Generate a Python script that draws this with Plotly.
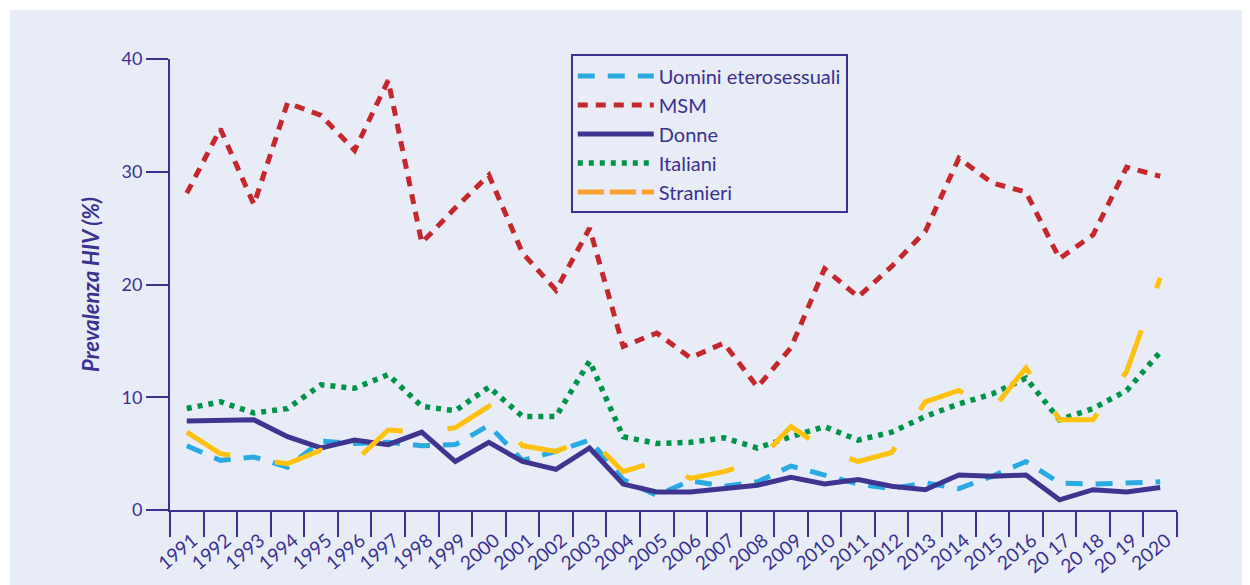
import plotly.graph_objects as go

years = list(range(1991, 2021))
year_labels = [str(y) for y in years]
year_labels = year_labels[:26] + ["20 17", "20 18", "20 19", "2020"]

uomini = [5.7, 4.4, 4.7, 3.8, 6.1, 5.9, 6.0, 5.7, 5.8, 7.5, 4.4, 5.2, 6.2, 2.7, 1.3,
          2.6, 2.1, 2.5, 3.9, 3.1, 2.3, 1.9, 2.4, 1.9, 3.0, 4.3, 2.4, 2.3, 2.4, 2.5]
msm = [28.1, 33.8, 27.1, 36.1, 35.0, 31.9, 38.1, 23.7, 26.8, 29.7, 22.8, 19.5, 25.0, 14.5, 15.7,
       13.5, 14.8, 10.9, 14.4, 21.4, 18.9, 21.6, 24.7, 31.2, 29.0, 28.2, 22.3, 24.4, 30.4, 29.6]
donne = [7.9, 7.9, 8.0, 6.5, 5.5, 6.2, 5.8, 6.9, 4.3, 6.0, 4.3, 3.6, 5.5, 2.3, 1.6,
         1.6, 1.9, 2.2, 2.9, 2.3, 2.7, 2.1, 1.8, 3.1, 3.0, 3.1, 0.9, 1.8, 1.6, 2.0]
italiani = [9.0, 9.6, 8.6, 9.0, 11.1, 10.8, 12.0, 9.2, 8.8, 10.9, 8.3, 8.3, 13.2, 6.5, 5.9,
            6.0, 6.4, 5.5, 6.5, 7.4, 6.2, 6.9, 8.3, 9.4, 10.3, 11.7, 8.0, 9.0, 10.6, 14.0]
stranieri = [6.9, 5.0, 4.5, 4.1, 5.3, 4.3, 7.1, 6.9, 7.3, 9.2, 5.7, 5.2, 6.4, 3.4, 4.3,
             2.8, 3.4, 4.3, 7.4, 5.4, 4.3, 5.1, 9.6, 10.6, 8.9, 12.6, 8.0, 8.0, 12.3, 20.6]

y_ticks = [0, 10, 20, 30, 40]

INK = "#3b3190"
BG = "#e8ecf7"
FONT = "Lato"

fig = go.Figure()

series = [
    ("Uomini eterosessuali", uomini, "#2aaae2", "17px,13px", 5),
    ("MSM", msm, "#c4282e", "10px,8px", 5),
    ("Donne", donne, "#3f3590", "solid", 5),
    ("Italiani", italiani, "#00934a", "5px,6px", 5.5),
]
for name, vals, col, dash, w in series:
    fig.add_trace(go.Scatter(
        x=years, y=vals, mode="lines", name=name,
        line=dict(color=col, dash=dash, width=w), hoverinfo="skip"))

# Stranieri: plotted line (yellow) + legend entry (orange)
fig.add_trace(go.Scatter(
    x=years, y=stranieri, mode="lines", name="Stranieri", showlegend=False,
    line=dict(color="#ffc10f", dash="50px,45px", width=5), hoverinfo="skip"))
fig.add_trace(go.Scatter(
    x=[None], y=[None], mode="lines", name="Stranieri",
    line=dict(color="#f7a12a", dash="26px,6px", width=5)))

# labels sit just left of the boundary ticks
label_vals = [y + 0.18 for y in years]
boundary_ticks = [years[0] - 0.5] + [y + 0.5 for y in years]

fig.update_layout(
    width=1250, height=585,
    paper_bgcolor="white", plot_bgcolor=BG,
    margin=dict(l=162, r=81, t=51, b=83, autoexpand=False),
    font=dict(family=FONT, color=INK, size=20),
    showlegend=True,
    legend=dict(
        x=0.398, y=1.01, xanchor="left", yanchor="top",
        bgcolor=BG, bordercolor=INK, borderwidth=2,
        font=dict(size=20, color=INK, family=FONT),
        tracegroupgap=0, itemwidth=76,
    ),
    shapes=[dict(type="rect", xref="paper", yref="paper",
                 x0=-0.159, x1=1.1, y0=-0.25, y1=1.1086,
                 fillcolor=BG, line=dict(width=0), layer="below")],
    xaxis=dict(
        range=[years[0] - 0.5, years[-1] + 0.5],
        tickmode="array", tickvals=label_vals, ticktext=year_labels,
        tickangle=-40, ticks="", ticklabelstandoff=10,
        minor=dict(tickmode="array", tickvals=boundary_ticks, ticks="outside",
                   ticklen=25, tickwidth=2, tickcolor=INK, showgrid=False),
        showline=True, linecolor=INK, linewidth=2,
        showgrid=False, zeroline=False, automargin=False,
        tickfont=dict(size=19, color=INK, family=FONT),
    ),
    yaxis=dict(
        range=[0, 40], tickmode="array", tickvals=y_ticks,
        ticks="outside", ticklen=22, tickwidth=2, tickcolor=INK,
        showline=True, linecolor=INK, linewidth=2,
        showgrid=False, zeroline=False, automargin=False,
        tickfont=dict(size=18, color=INK, family=FONT),
    ),
    annotations=[dict(
        text="<b><i>Prevalenza HIV (%)</i></b>", xref="paper", yref="paper",
        x=-0.079, y=0.5, textangle=-90, showarrow=False,
        font=dict(size=22, color=INK, family=FONT),
        xanchor="center", yanchor="middle")],
)

fig.write_html("out.html")
